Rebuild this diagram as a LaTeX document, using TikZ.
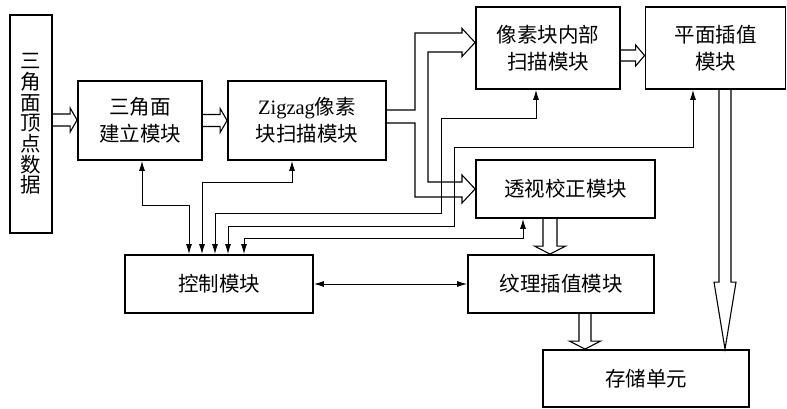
\documentclass[tikz,border=0pt]{standalone}
\usepackage{fontspec}
\setmainfont{Liberation Serif}
\newfontfamily\cjk{Noto Sans CJK SC}
\usetikzlibrary{arrows.meta,calc}
\newcommand{\hollowH}[5]{\draw[hol] ($(#1)+(0,-#3)$) -- ($(#2)+(-#5,-#3)$) -- ($(#2)+(-#5,-#4)$) -- (#2) -- ($(#2)+(-#5,#4)$) -- ($(#2)+(-#5,#3)$) -- ($(#1)+(0,#3)$);}
\newcommand{\hollowV}[5]{\draw[hol] ($(#1)+(-#3,0)$) -- ($(#2)+(-#3,-#5)$) -- ($(#2)+(-#4,-#5)$) -- (#2) -- ($(#2)+(#4,-#5)$) -- ($(#2)+(#3,-#5)$) -- ($(#1)+(#3,0)$);}
\begin{document}
\begin{tikzpicture}[x=1pt,y=-1pt,
  box/.style={draw,line width=1.8pt,inner sep=0pt,font=\cjk\fontsize{20.5}{27}\selectfont,align=center},
  conn/.style={line width=1pt,{Latex[length=10pt,width=6pt]}-{Latex[length=10pt,width=6pt]}},
  hol/.style={line width=1.1pt,line join=miter}]
\useasboundingbox[fill=white] (0,0) rectangle (787,409);

\node[box,minimum width=42pt,minimum height=218pt,font=\cjk\fontsize{20.5}{20.7}\selectfont] (b1) at (31,124) {三\\角\\面\\顶\\点\\数\\据};
\node[box,minimum width=124pt,minimum height=79pt] (b2) at (140,120.5) {三角面\\建立模块};
\node[box,minimum width=158pt,minimum height=79pt] (b3) at (307,120.5) {{\rmfamily Zigzag}像素\\块扫描模块};
\node[box,minimum width=144pt,minimum height=82pt] (b4) at (548,48) {像素块内部\\扫描模块};
\node[box,minimum width=140pt,minimum height=82pt] (b5) at (715.5,48) {平面插值\\模块};
\node[box,minimum width=179pt,minimum height=58pt] (b6) at (565.5,189) {透视校正模块};
\node[box,minimum width=188pt,minimum height=58pt] (b7) at (219,284) {控制模块};
\node[box,minimum width=186pt,minimum height=58pt] (b8) at (561,284) {纹理插值模块};
\node[box,minimum width=206pt,minimum height=57pt] (b9) at (646,378.5) {存储单元};

% control connectors
\draw[conn] ([xshift=2pt]b2.south) -- ++(0,45) -| ([xshift=-30pt]b7.north);
\draw[conn] ([xshift=-15pt]b3.south) -- ++(0,22) -| ([xshift=-17pt]b7.north);
\draw[conn] ([xshift=-12pt]b4.south) -- ++(0,29) -| (441,213) -| ([xshift=-4pt]b7.north);
\draw[conn] ([xshift=-22.5pt]b5.south) -- ++(0,58) -| (454,226) -| ([xshift=9pt]b7.north);
\draw[conn] ([xshift=-42.5pt]b6.south) -- ++(0,20) -| ([xshift=25pt]b7.north);
\draw[conn] (b7.east) -- (b8.west);

% hollow data arrows
\coordinate (a1s) at ($(b1.east)+(0,-4)$);
\coordinate (a1t) at (a1s -| b2.west);
\hollowH{a1s}{a1t}{6}{12}{7}
\hollowH{b2.east}{b3.west}{6}{12}{7}
\coordinate (a3s) at ($(b4.east)+(0,7.5)$);
\coordinate (a3t) at (a3s -| b5.west);
\hollowH{a3s}{a3t}{5.5}{10.5}{9}
\coordinate (a4s) at ($(b6.south)+(-15.5,0)$);
\coordinate (a4t) at (a4s |- b8.north);
\hollowV{a4s}{a4t}{7}{15.5}{8}
\coordinate (a5s) at ($(b8.south)+(24,0)$);
\coordinate (a5t) at (a5s |- b9.north);
\hollowV{a5s}{a5t}{6}{15.5}{8}
\coordinate (a6s) at ($(b5.south)+(9.5,0)$);
\coordinate (a6t) at (a6s |- b9.north);
\hollowV{a6s}{a6t}{6}{11}{67}

% split hollow arrow from Zigzag module
\draw[hol] ($(b3.east)+(0,-10.5)$) -- (415,110) -- (415,33) -- (462,33) -- (462,28.5)
  -- ($(b4.west)+(0,-5.5)$) -- (462,56.5) -- (462,52) -- (428,52) -- (428,182) -- (462,182)
  -- (462,175) -- (b6.west) -- (462,203) -- (462,197) -- (415,197) -- (415,123)
  -- ($(b3.east)+(0,2.5)$);
\end{tikzpicture}
\end{document}
